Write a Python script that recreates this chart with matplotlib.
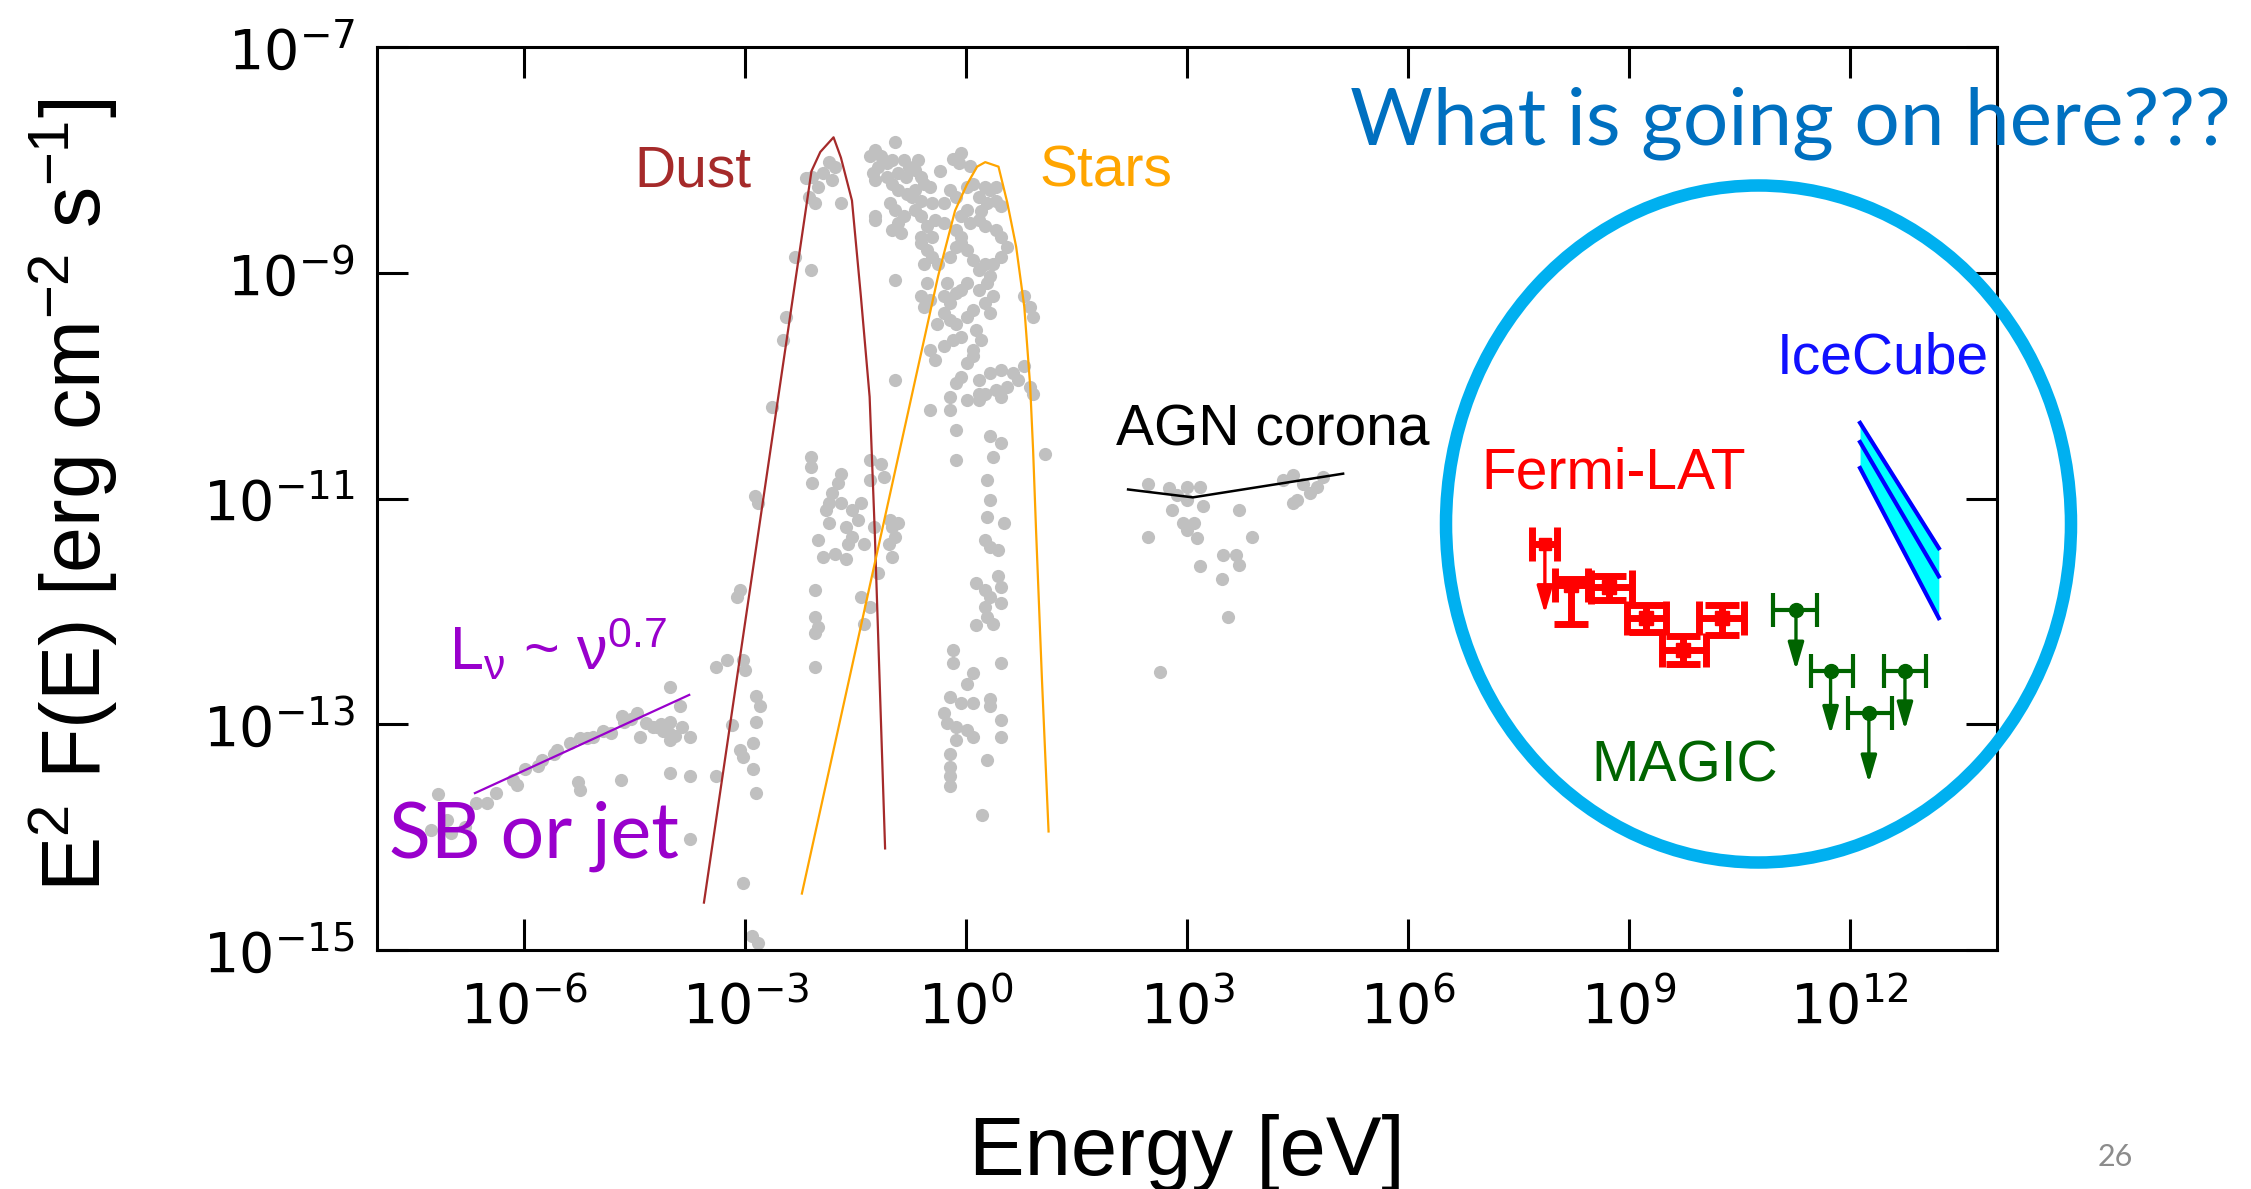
import numpy as np
from matplotlib import pyplot as plt
from matplotlib.patches import Ellipse
from matplotlib.ticker import NullLocator, FixedLocator

plt.rcParams['mathtext.rm'] = 'Liberation Sans'
plt.rcParams['mathtext.it'] = 'Liberation Sans'
plt.rcParams['mathtext.bf'] = 'Liberation Sans:bold'

# every value below is (log10 E [eV], log10 E^2F [erg cm^-2 s^-1])

# gray archival points
radio_dots = [
	(-5.81, -13.37), (-5.56, -13.23), (-5.38, -13.17), (-5.24, -13.12), (-4.93, -13.06),
	(-4.65, -12.98), (-4.47, -12.90), (-4.25, -13.02), (-4.11, -13.06), (-4.02, -12.98),
	(-3.86, -13.02), (-4.02, -13.14), (-3.75, -13.11), (-4.02, -12.67), (-3.89, -12.84),
	(-6.10, -13.54), (-6.51, -13.70), (-7.17, -13.62), (-7.05, -13.85), (-7.26, -13.94),
	(-6.99, -13.96), (-6.81, -13.91), (-5.27, -13.51), (-5.24, -13.58), (-4.68, -13.49),
	(-4.02, -13.43), (-3.75, -13.46), (-3.75, -14.02), (-4.67, -12.93), (-4.35, -12.99),
	(-4.20, -13.02), (-4.04, -13.08), (-4.43, -13.11), (-4.82, -13.08), (-5.06, -13.11),
	(-5.60, -13.26), (-5.76, -13.32), (-5.99, -13.40), (-6.15, -13.49), (-6.38, -13.61),
	(-6.65, -13.70), (-3.95, -13.10), (-4.15, -13.00), (-4.55, -12.95), (-5.15, -13.12),
]
ir_dots = [
	(-3.39, -12.49), (-3.25, -12.43), (-3.03, -12.43), (-3.00, -12.52), (-3.18, -13.01),
	(-3.07, -13.23), (-3.03, -13.29), (-2.89, -13.17), (-2.85, -12.98), (-2.85, -12.75),
	(-2.80, -12.84), (-2.89, -13.40), (-2.85, -13.61), (-3.39, -13.46), (-3.03, -14.41),
	(-1.86, -8.02), (-1.94, -8.12), (-2.09, -8.15), (-1.82, -8.18), (-2.01, -8.24),
	(-2.13, -8.33), (-2.05, -8.38), (-1.70, -8.38), (-2.17, -8.16), (-1.78, -8.06),
	(-2.11, -8.98), (-2.33, -8.86), (-2.44, -9.39), (-2.48, -9.60), (-2.64, -10.19),
	(-2.11, -10.63), (-2.11, -10.72), (-2.09, -10.86), (-1.70, -10.78), (-1.74, -10.86),
	(-1.82, -10.95), (-1.86, -11.04), (-1.70, -11.04), (-1.43, -11.04), (-1.31, -10.66),
	(-1.16, -10.69), (-1.12, -10.81), (-1.31, -10.84), (-1.04, -11.19), (-1.00, -11.25),
	(-1.86, -11.22), (-1.63, -11.25), (-1.47, -11.19), (-2.87, -10.98), (-2.83, -11.04),
	(-1.55, -11.34), (-2.01, -11.37), (-1.94, -11.52), (-1.63, -11.54), (-1.78, -11.49),
	(-1.39, -11.40), (-0.92, -11.22), (-0.96, -11.34), (-1.00, -11.52), (-1.20, -11.66),
	(-1.43, -11.87), (-1.39, -12.11), (-1.31, -11.96), (-2.05, -11.81), (-2.05, -12.05),
	(-2.01, -12.14), (-2.05, -12.19), (-2.05, -12.49), (-3.07, -11.81), (-3.11, -11.87),
	(-2.91, -14.88), (-2.83, -14.94), (-1.90, -11.10), (-1.55, -11.10), (-1.25, -11.25),
	(-1.60, -11.40), (-1.05, -11.40),
]
opt_dots = [
	(-0.96, -7.84), (-1.24, -7.91), (-1.31, -7.97), (-1.16, -7.97), (-1.08, -8.03),
	(-1.20, -8.06), (-1.00, -8.00), (-0.85, -8.00), (-0.77, -8.06), (-0.92, -8.12),
	(-0.81, -8.15), (-0.69, -8.09), (-0.61, -8.15), (-0.57, -8.21), (-0.69, -8.27),
	(-0.49, -8.24), (-0.73, -8.33), (-0.61, -8.36), (-0.46, -8.38), (-1.08, -8.15),
	(-1.24, -8.18), (-1.27, -8.12), (-1.00, -8.21), (-0.92, -8.27), (-1.04, -8.38),
	(-0.96, -8.44), (-0.85, -8.50), (-0.92, -8.56), (-1.00, -8.62), (-0.88, -8.65),
	(-1.24, -8.53), (-0.69, -8.44), (-0.61, -8.50), (-0.53, -8.59), (-0.46, -8.68),
	(-0.61, -8.68), (-0.42, -8.53),
	(-0.18, -7.99), (-0.07, -7.94), (-0.10, -8.03), (-0.22, -8.27), (-0.14, -8.33),
	(0.01, -8.24), (0.09, -8.21), (0.25, -8.24), (0.32, -8.27), (0.40, -8.24),
	(0.17, -8.33), (0.29, -8.38), (0.40, -8.36), (0.48, -8.41), (0.01, -8.44),
	(-0.07, -8.50), (0.05, -8.56), (0.17, -8.53), (0.25, -8.59), (0.40, -8.62),
	(0.48, -8.68), (0.56, -8.77), (0.48, -8.86), (0.36, -8.92), (-0.14, -8.62),
	(-0.07, -8.68), (-0.30, -8.38), (-0.30, -8.56),
	(-0.61, -8.74), (-0.53, -8.80), (-0.46, -8.86), (-0.38, -8.92), (-0.22, -8.86),
	(-0.14, -8.77), (-0.07, -8.74), (0.01, -8.80), (0.09, -8.89), (0.17, -8.98),
	(0.25, -8.92), (0.32, -9.03), (0.29, -9.09), (0.36, -9.21), (0.25, -9.27),
	(0.32, -9.36), (0.17, -9.15), (0.01, -9.09), (-0.07, -9.15), (-0.14, -9.18),
	(-0.22, -9.27), (-0.30, -9.21), (-0.26, -9.09), (-0.57, -8.92), (-0.53, -9.09),
	(-0.49, -9.24), (-0.61, -9.21), (-0.57, -9.30), (-0.30, -9.36), (-0.22, -9.42),
	(-0.14, -9.45), (0.01, -9.39), (0.09, -9.33), (0.13, -9.51), (-0.07, -9.57),
	(-0.18, -9.60), (-0.30, -9.65), (-0.42, -9.77), (-0.49, -9.68), (0.01, -9.80),
	(0.09, -9.74), (-0.07, -9.92), (-0.14, -9.98), (-0.22, -10.10), (-0.22, -10.22),
	(0.01, -10.13), (0.17, -10.07), (0.09, -9.68),
	(-1.24, -8.50), (-0.96, -9.06), (-0.96, -9.95), (-0.49, -10.22), (-0.14, -10.39),
	(-0.14, -10.66), (0.32, -10.45), (0.48, -10.51), (0.36, -10.63), (1.07, -10.61),
	(0.79, -9.21), (0.87, -9.30), (0.91, -9.39), (0.79, -9.83), (0.87, -10.01),
	(0.91, -10.07),
	(0.17, -9.95), (0.32, -9.89), (0.48, -9.86), (0.64, -9.89), (0.71, -9.95),
	(0.56, -10.01), (0.40, -10.04), (0.25, -10.07), (0.17, -10.13), (0.48, -10.10),
	(0.25, -11.37), (0.32, -11.43), (0.44, -11.46), (0.29, -11.16), (0.52, -11.22),
	(0.32, -11.01), (0.29, -10.84), (0.13, -11.75), (0.25, -11.81), (0.32, -11.87),
	(0.44, -11.69), (0.48, -11.78), (0.48, -11.93), (0.25, -11.96), (0.29, -12.05),
	(0.36, -12.11), (0.13, -12.12), (-0.18, -12.34), (-0.18, -12.46), (0.09, -12.55),
	(0.48, -12.46), (0.01, -12.64), (-0.22, -12.76), (-0.07, -12.81), (0.09, -12.81),
	(0.32, -12.78), (0.32, -12.84), (-0.30, -12.90), (-0.26, -12.99), (-0.14, -13.02),
	(0.01, -13.05), (0.09, -13.11), (0.48, -12.96), (0.48, -13.11), (-0.14, -13.14),
	(-0.22, -13.26), (-0.22, -13.38), (-0.22, -13.46), (-0.22, -13.55), (0.29, -13.32),
	(0.21, -13.80),
	(-0.80, -8.30), (-0.35, -8.10), (0.20, -8.45), (-0.40, -9.45), (0.20, -9.60),
	(-0.65, -8.00), (0.05, -8.05),
]
xray_dots = [
	(2.47, -10.87), (2.75, -10.91), (3.00, -10.90), (3.18, -10.90), (2.86, -10.97),
	(3.00, -11.01), (3.22, -11.07), (2.79, -11.10), (3.70, -11.10), (2.95, -11.22),
	(3.09, -11.22), (3.00, -11.28), (3.13, -11.35), (2.47, -11.34), (3.88, -11.34),
	(3.49, -11.50), (3.67, -11.50), (3.70, -11.59), (3.18, -11.60), (3.48, -11.71),
	(3.56, -12.05), (4.44, -10.79), (4.31, -10.84), (4.58, -10.87), (4.76, -10.90),
	(4.85, -10.81), (4.67, -10.95), (4.49, -11.01), (4.44, -11.04), (2.63, -12.54),
]

# model curves
dust_logE = [-3.56, -2.10, -1.98, -1.80, -1.70, -1.55, -1.43, -1.31, -1.24, -1.17, -1.10]
dust_logF = [-14.58, -8.10, -7.93, -7.80, -7.98, -8.36, -9.20, -10.10, -11.30, -12.70, -14.10]
stars_logE = [-2.23, -0.38, -0.15, 0.01, 0.15, 0.26, 0.44, 0.56, 0.68, 0.79, 0.87, 0.91, 0.95, 1.03, 1.12]
stars_logF = [-14.50, -9.03, -8.45, -8.22, -8.06, -8.02, -8.06, -8.38, -8.77, -9.30, -10.00, -10.57, -11.28, -12.60, -13.95]
sb_logE = [-6.67, -3.76]
sb_logF = [-13.61, -12.74]
agn_logE = [2.20, 3.08, 5.12]
agn_logF = [-10.92, -10.99, -10.78]

# Fermi-LAT
fermi_logE = [8.21, 8.73, 9.24, 9.73, 10.26]
fermi_logE_lo = [8.00, 8.49, 8.98, 9.45, 9.95]
fermi_logE_hi = [8.44, 9.04, 9.50, 10.05, 10.57]
fermi_logF = [-11.77, -11.78, -12.06, -12.34, -12.06]
fermi_logF_lo = [-12.11, -11.90, -12.18, -12.47, -12.21]
fermi_logF_hi = [-11.71, -11.69, -11.94, -12.22, -11.94]
fermi_ul_logE = [7.86]
fermi_ul_lo = [7.69]
fermi_ul_hi = [8.02]
fermi_ul_logF = [-11.40]
fermi_ul_end = [-12.02]

# MAGIC upper limits
magic_logE = [11.27, 11.74, 12.26, 12.75]
magic_lo = [10.96, 11.48, 11.97, 12.47]
magic_hi = [11.56, 12.05, 12.57, 13.04]
magic_logF = [-11.99, -12.53, -12.90, -12.53]
magic_end = [-12.52, -13.09, -13.52, -13.05]

# IceCube band
ice_logE = [12.14, 13.21]
ice_hi = [-10.33, -11.44]
ice_mid = [-10.50, -11.69]
ice_lo = [-10.73, -12.06]

x_tick_exp = [-6, -3, 0, 3, 6, 9, 12]
y_tick_exp = [-15, -13, -11, -9, -7]


def p(v):
	return 10.0 ** np.asarray(v, dtype=float)


def draw_limits(ax, logE, logF, logEnd, color):
	for e, f, g in zip(logE, logF, logEnd):
		ax.annotate('', xy=(p(e), p(g)), xytext=(p(e), p(f)),
			arrowprops=dict(arrowstyle='-|>,head_length=0.55,head_width=0.16',
				color=color, lw=2.4, shrinkA=0, shrinkB=0, mutation_scale=30),
			zorder=4)


fig = plt.figure(figsize=(22.51, 11.89), dpi=100)
ax = fig.add_axes([377 / 2251, 1 - 950 / 1189, 1620 / 2251, 903 / 1189])
ax.set_xscale('log')
ax.set_yscale('log')
ax.set_xlim(1e-8, 1e14)
ax.set_ylim(1e-15, 1e-7)

gray = '#c0c0c0'
for pts in (radio_dots, ir_dots, opt_dots, xray_dots):
	arr = np.array(pts)
	ax.scatter(p(arr[:, 0]), p(arr[:, 1]), s=90, color=gray, linewidths=0, zorder=1)

ax.plot(p(dust_logE), p(dust_logF), color='#a52a2a', lw=1.6, zorder=3)
ax.plot(p(stars_logE), p(stars_logF), color='#ffa500', lw=1.6, zorder=3)
ax.plot(p(sb_logE), p(sb_logF), color='#9900cc', lw=1.6, zorder=3)
ax.plot(p(agn_logE), p(agn_logF), color='black', lw=1.8, zorder=3)

# IceCube
ax.fill_between(p(ice_logE), p(ice_lo), p(ice_hi), color='#00ffff', lw=0, zorder=3)
for band in (ice_hi, ice_mid, ice_lo):
	ax.plot(p(ice_logE), p(band), color='#0000ff', lw=3.0, zorder=4)

# Fermi-LAT
fe = p(fermi_logE)
ff = p(fermi_logF)
ax.errorbar(fe, ff,
	xerr=[fe - p(fermi_logE_lo), p(fermi_logE_hi) - fe],
	yerr=[ff - p(fermi_logF_lo), p(fermi_logF_hi) - ff],
	fmt='s', ms=10, color='#ff0000', elinewidth=5, capsize=12, capthick=5, zorder=4)
ue = p(fermi_ul_logE)
ax.errorbar(ue, p(fermi_ul_logF), xerr=[ue - p(fermi_ul_lo), p(fermi_ul_hi) - ue],
	fmt='s', ms=9, color='#ff0000', elinewidth=5, capsize=12, capthick=5, zorder=4)
draw_limits(ax, fermi_ul_logE, fermi_ul_logF, fermi_ul_end, '#ff0000')

# MAGIC
me = p(magic_logE)
ax.errorbar(me, p(magic_logF), xerr=[me - p(magic_lo), p(magic_hi) - me],
	fmt='o', ms=10, color='#006400', elinewidth=3, capsize=12, capthick=3, zorder=4)
draw_limits(ax, magic_logE, magic_logF, magic_end, '#006400')

# axes style
for s in ax.spines.values():
	s.set_linewidth(2.2)
ax.xaxis.set_major_locator(FixedLocator(p(x_tick_exp)))
ax.yaxis.set_major_locator(FixedLocator(p(y_tick_exp)))
ax.xaxis.set_minor_locator(NullLocator())
ax.yaxis.set_minor_locator(NullLocator())
ax.tick_params(which='major', direction='in', length=22, width=2.2,
	top=True, right=True, labelsize=40)
ax.tick_params(axis='x', pad=21)
ax.tick_params(axis='y', pad=16)

# labels inside the plot
lab = dict(family='Liberation Sans', fontsize=41, va='baseline', ha='left', zorder=5)
ax.text(p(-4.50), p(-8.24), 'Dust', color='#a52a2a', **lab)
ax.text(p(1.00), p(-8.24), 'Stars', color='#ffa500', **lab)
ax.text(p(2.04), p(-10.53), 'AGN corona', color='black', **lab)
ax.text(p(7.00), p(-10.91), 'Fermi-LAT', color='#ff0000', **lab)
ax.text(p(11.01), p(-9.89), 'IceCube', color='#1010ff', **lab)
ax.text(p(8.49), p(-13.51), 'MAGIC', color='#006400', **lab)
ax.text(p(-7.02), p(-12.52), r'$\mathregular{L_{\nu}}$ ~ $\mathregular{\nu^{0.7}}$',
	color='#9900cc', family='Liberation Sans', fontsize=44, math_fontfamily='custom',
	va='baseline', ha='left', zorder=5)
ax.text(p(-7.84), p(-14.18), 'SB or jet', color='#9900cc', family=['Lato', 'DejaVu Sans'],
	fontsize=55.5, va='baseline', ha='left', zorder=5)

# figure texts
fig.text(0.033, 0.5837, r'E$^{2}$ F(E) [erg cm$^{-2}$ s$^{-1}$]', rotation=90,
	ha='center', va='center', fontsize=59.5, family='Liberation Sans', math_fontfamily='custom')
fig.text(0.5273, 0.012, 'Energy [eV]', ha='center', va='baseline', fontsize=60,
	family='Liberation Sans')
fig.text(0.5997, 0.8789, 'What is going on here???', color='#0070c0', fontsize=57.7,
	family=['Lato', 'DejaVu Sans'], ha='left', va='baseline', zorder=6)
fig.text(0.9396, 0.019, '26', color='#8c8c8c', fontsize=22, family=['Lato', 'DejaVu Sans'],
	ha='center', va='baseline')

ring = Ellipse((1758.5 / 2251, 1 - 524 / 1189), 625 / 2251, 677 / 1189,
	transform=fig.transFigure, fill=False, edgecolor='#00b0f0', lw=9, zorder=5)
fig.add_artist(ring)

fig.savefig('out.png', dpi=100)
